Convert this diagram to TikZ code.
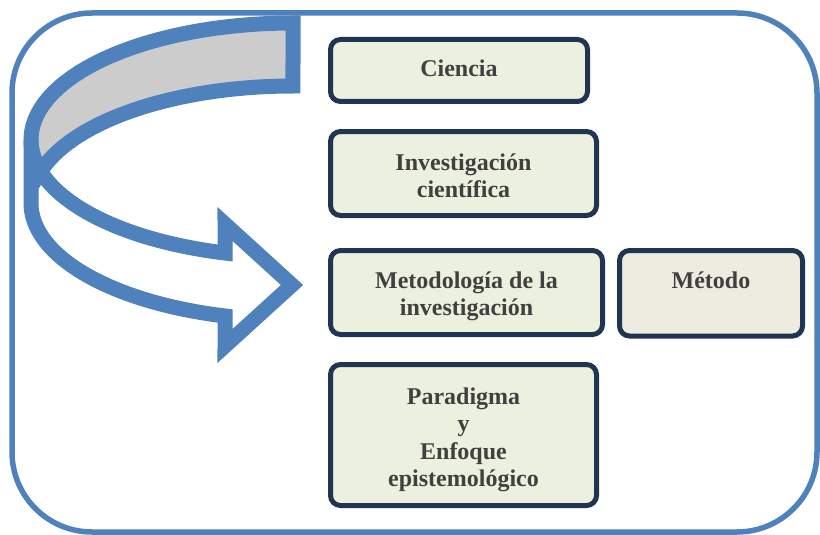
\documentclass[tikz,border=0pt]{standalone}
\usepackage{fontspec}
\setmainfont{Liberation Serif}
\usetikzlibrary{calc}
\definecolor{frameblue}{HTML}{4F81BD}
\definecolor{boxnavy}{HTML}{1F3552}
\definecolor{boxgreen}{HTML}{EBF1DE}
\definecolor{boxbeige}{HTML}{EEECE1}
\definecolor{txtgray}{HTML}{404040}
\definecolor{backgray}{HTML}{CCCCCC}
\begin{document}
\begin{tikzpicture}[x=1pt,y=-1pt,
  framestyle/.style={draw=frameblue,line width=5.5pt,rounded corners=80pt},
  arrowline/.style={draw=frameblue,line width=15pt,line join=miter},
  conceptbox/.style={draw=boxnavy,line width=5pt,rounded corners=10pt,fill=boxgreen,inner sep=0pt},
  beigebox/.style={conceptbox,fill=boxbeige},
  boxtext/.style={text=txtgray,font=\bfseries\fontsize{24}{27.5}\selectfont,align=center,inner sep=0pt}]
\useasboundingbox (0,0) rectangle (820,535);
% outer frame
\draw[framestyle] (12,13) rectangle (817,532);
% curved ribbon arrow: back (gray) part
\fill[backgray] (293,23) -- plot[domain=270:164.4,samples=80] ({293+262*cos(\x)},{140+117*sin(\x)})
   -- plot[domain=195.6:270,samples=80] ({293+262*cos(\x)},{203+117*sin(\x)}) -- cycle;
% front part
\fill[white] plot[domain=180:105.04,samples=80] ({293+262*cos(\x)},{140+117*sin(\x)})
   -- (225,224) -- (292,285) -- (225,346)
   -- plot[domain=105.04:180,samples=80] ({293+262*cos(\x)},{203+117*sin(\x)}) -- cycle;
% outlines
\draw[arrowline] (293,23) -- plot[domain=270:164.4,samples=80] ({293+262*cos(\x)},{140+117*sin(\x)})
   -- plot[domain=195.6:270,samples=80] ({293+262*cos(\x)},{203+117*sin(\x)}) -- cycle;
\draw[arrowline] plot[domain=180:105.04,samples=80] ({293+262*cos(\x)},{140+117*sin(\x)})
   -- (225,224) -- (292,285) -- (225,346)
   -- plot[domain=105.04:180,samples=80] ({293+262*cos(\x)},{203+117*sin(\x)}) -- cycle;
% boxes
\node[conceptbox,minimum width=257pt,minimum height=62pt] (ciencia) at (459,70.5) {};
\node[conceptbox,minimum width=266pt,minimum height=84pt] (invest) at (463.5,173.5) {};
\node[conceptbox,minimum width=272pt,minimum height=84pt] (metodologia) at (466.5,292.5) {};
\node[beigebox,minimum width=183pt,minimum height=85.5pt] (metodo) at (711,293.25) {};
\node[conceptbox,minimum width=266pt,minimum height=141pt] (paradigma) at (463.5,435) {};
% texts
\node[boxtext] (tciencia) at ($(ciencia.center)+(0,-2)$) {Ciencia};
\node[boxtext] (tinvest) at ($(invest.center)+(0,2.5)$) {Investigación\\científica};
\node[boxtext] (tmetodologia) at ($(metodologia.center)+(0,4)$) {Metodología de la\\investigación};
\node[boxtext,anchor=base] (tmetodo) at ($(metodo.center)+(0,-5)$) {Método};
\node[boxtext] (tparadigma) at ($(paradigma.center)+(0,5)$) {Paradigma\\y\\Enfoque\\epistemológico};
\end{tikzpicture}
\end{document}
